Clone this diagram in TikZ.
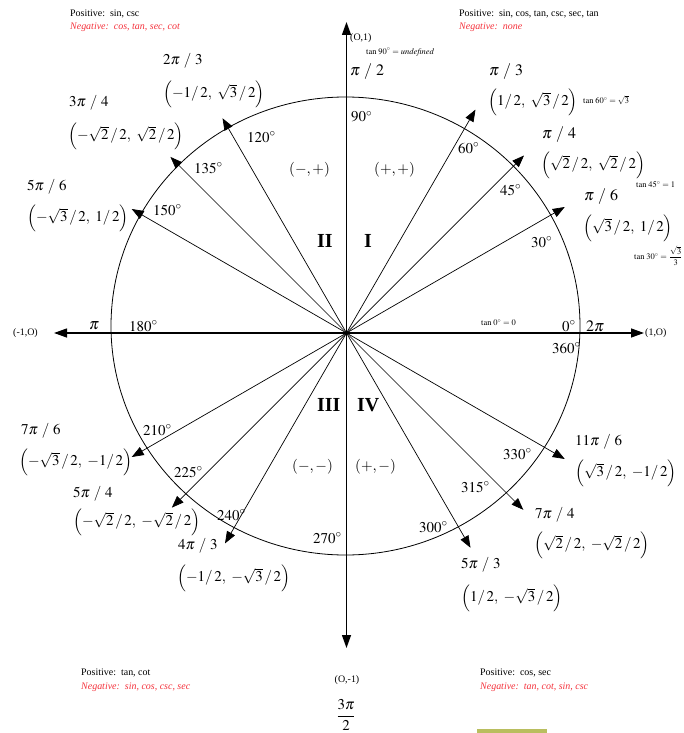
\documentclass[tikz,border=0pt]{standalone}
\usepackage{mathptmx}
\usepackage[no-math]{fontspec}
\setmainfont{Liberation Serif}
\usetikzlibrary{arrows.meta}
\definecolor{negred}{RGB}{245,50,60}
\definecolor{olivebar}{RGB}{185,190,95}
\tikzset{
  x=1bp, y=-1bp,
  lbl/.style={anchor=west, inner sep=0pt, font=\fontsize{15}{18}\selectfont},
  big/.style={lbl, font=\fontsize{16}{19}\selectfont},
  deg/.style={lbl, font=\fontsize{15}{18}\selectfont},
  quad/.style={lbl, font=\fontsize{20}{24}\selectfont\bfseries},
  sm/.style={anchor=west, inner sep=0pt, font=\fontsize{10}{12}\selectfont},
  neg/.style={sm, text=negred, font=\fontsize{10}{12}\selectfont\itshape},
  tiny/.style={anchor=west, inner sep=0pt, font=\fontsize{8.5}{10}\selectfont},
  ray/.style={line width=0.7bp, -{Triangle[length=12bp,width=9bp]}},
  axis/.style={line width=1.3bp, {Triangle[length=13bp,width=9bp]}-{Triangle[length=13bp,width=9bp]}},
  unit/.style={line width=0.8bp}
}
\newcommand{\pt}[1]{$\Bigl(#1\Bigr)$}
\begin{document}
\begin{tikzpicture}
\useasboundingbox (0,0) rectangle (684,733);
\fill[white] (0,0) rectangle (684,733);
% circle
\coordinate (C) at (345.5,326);
\draw[unit] (C) ellipse [x radius=234.5, y radius=229];
% centre and axes
\coordinate (O) at (346.5,333);
\coordinate (xl) at (54,333);
\coordinate (xr) at (644,333);
\coordinate (yt) at (346.5,22);
\coordinate (yb) at (346.5,648);
\draw[axis] (xl) -- (xr);
\draw[axis] (yt) -- (yb);
% rays
\foreach \a/\l in {30/252,45/251,60/258,120/248,135/249,150/248,210/248,225/247,240/243,300/248,315/250,330/252}{
  \path (O) ++(-\a:\l) coordinate (r\a);
  \draw[ray] (O) -- (r\a);
}
% quadrant sign texts
\node[sm] (p1) at (70,14) {Positive:\ \ sin, csc};
\node[neg] (n1) at (70,27) {Negative:\ \ cos, tan, sec, cot};
\node[sm] (p2) at (459,14) {Positive:\ \ sin, cos, tan, csc, sec, tan};
\node[neg] (n2) at (459,27) {Negative:\ \ none};
\node[sm] (p3) at (81,673) {Positive:\ \ tan, cot};
\node[neg] (n3) at (81,687) {Negative:\ \ sin, cos, csc, sec};
\node[sm] (p4) at (480,673) {Positive:\ \ cos, sec};
\node[neg] (n4) at (480,687) {Negative:\ \ tan, cot, sin, csc};
% axis points
\node[sm] (o1) at (350,38) {(O,1)};
\node[tiny] (t90) at (366,52) {$\tan\,90^\circ = \mathit{undefined}$};
\node[big] (pi2) at (350,72) {$\pi\ /\ 2$};
\node[deg] (d90) at (351,117) {$90^\circ$};
\node[sm] (m10) at (13,333) {(-1,O)};
\node[big] (pi) at (89,326) {$\pi$};
\node[deg] (d180) at (129,326) {$180^\circ$};
\node[tiny] (t0) at (481,323) {$\tan\,0^\circ = 0$};
\node[deg] (d0) at (562,326) {$0^\circ$};
\node[big] (tpi) at (586,326) {$2\pi$};
\node[deg] (d360) at (552,348) {$360^\circ$};
\node[sm] (p10) at (645,333) {(1,O)};
\node[sm,anchor=center] (om1) at (347,680) {(O,-1)};
\node[lbl,anchor=center] (tp2) at (346,715) {$\displaystyle\frac{3\pi}{2}$};
% quadrant labels
\node[quad] (q1) at (364,241) {I};
\node[quad] (q2) at (317,241) {II};
\node[quad] (q3) at (317,405) {III};
\node[quad] (q4) at (357,405) {IV};
\node[lbl] (s1) at (374,170) {$(+,+)$};
\node[lbl] (s2) at (289,170) {$(-,+)$};
\node[lbl] (s3) at (292,467) {$(-,-)$};
\node[lbl] (s4) at (355,467) {$(+,-)$};
% quadrant I
\node[big] (a60) at (489,72) {$\pi\ /\ 3$};
\node[lbl] (c60) at (488,102) {\pt{1/\,2,\ \sqrt{3}\,/\,2}};
\node[tiny] (t60) at (583,100) {$\tan\,60^\circ = \sqrt{3}$};
\node[big] (a45) at (542,135) {$\pi\ /\ 4$};
\node[lbl] (c45) at (541,165) {\pt{\sqrt{2}\,/\,2,\ \sqrt{2}\,/\,2}};
\node[tiny] (t45) at (636,185) {$\tan\,45^\circ = 1$};
\node[big] (a30) at (584,197) {$\pi\ /\ 6$};
\node[lbl] (c30) at (583,228) {\pt{\sqrt{3}\,/\,2,\ 1/\,2}};
\node[tiny] (t30) at (634,256) {$\tan\,30^\circ = \displaystyle\frac{\sqrt{3}}{3}$};
\node[deg] (d60) at (458,148) {$60^\circ$};
\node[deg] (d45) at (500,190) {$45^\circ$};
\node[deg] (d30) at (531,242) {$30^\circ$};
% quadrant II
\node[lbl] (a120) at (163,61) {$2\pi\ /\ 3$};
\node[lbl] (c120) at (163,94) {\pt{-1/\,2,\ \sqrt{3}\,/\,2}};
\node[lbl] (a135) at (69,103) {$3\pi\ /\ 4$};
\node[lbl] (c135) at (68,136) {\pt{-\sqrt{2}\,/\,2,\ \sqrt{2}\,/\,2}};
\node[lbl] (a150) at (27,187) {$5\pi\ /\ 6$};
\node[lbl] (c150) at (27,218) {\pt{-\sqrt{3}\,/\,2,\ 1/\,2}};
\node[deg] (d120) at (247,137) {$120^\circ$};
\node[deg] (d135) at (194,168) {$135^\circ$};
\node[deg] (d150) at (153,210) {$150^\circ$};
% quadrant III
\node[lbl] (a210) at (21,431) {$7\pi\ /\ 6$};
\node[lbl] (c210) at (19,462) {\pt{-\sqrt{3}\,/\,2,\ -1/\,2}};
\node[lbl] (a225) at (73,494) {$5\pi\ /\ 4$};
\node[lbl] (c225) at (73,522) {\pt{-\sqrt{2}\,/\,2,\ -\sqrt{2}\,/\,2}};
\node[lbl] (a240) at (178,546) {$4\pi\ /\ 3$};
\node[lbl] (c240) at (177,578) {\pt{-1/\,2,\ -\sqrt{3}\,/\,2}};
\node[deg] (d210) at (143,430) {$210^\circ$};
\node[deg] (d225) at (174,472) {$225^\circ$};
\node[deg] (d240) at (217,515) {$240^\circ$};
\node[deg] (d270) at (313,538) {$270^\circ$};
% quadrant IV
\node[lbl] (a330) at (575,442) {$11\pi\ /\ 6$};
\node[lbl] (c330) at (575,473) {\pt{\sqrt{3}\,/\,2,\ -1/\,2}};
\node[lbl] (a315) at (535,515) {$7\pi\ /\ 4$};
\node[lbl] (c315) at (534,545) {\pt{\sqrt{2}\,/\,2,\ -\sqrt{2}\,/\,2}};
\node[lbl] (a300) at (461,565) {$5\pi\ /\ 3$};
\node[lbl] (c300) at (461,598) {\pt{1/\,2,\ -\sqrt{3}\,/\,2}};
\node[deg] (d330) at (503,454) {$330^\circ$};
\node[deg] (d315) at (461,487) {$315^\circ$};
\node[deg] (d300) at (419,527) {$300^\circ$};
% bottom bar
\fill[olivebar] (477,729) rectangle (547,733);
\end{tikzpicture}
\end{document}
